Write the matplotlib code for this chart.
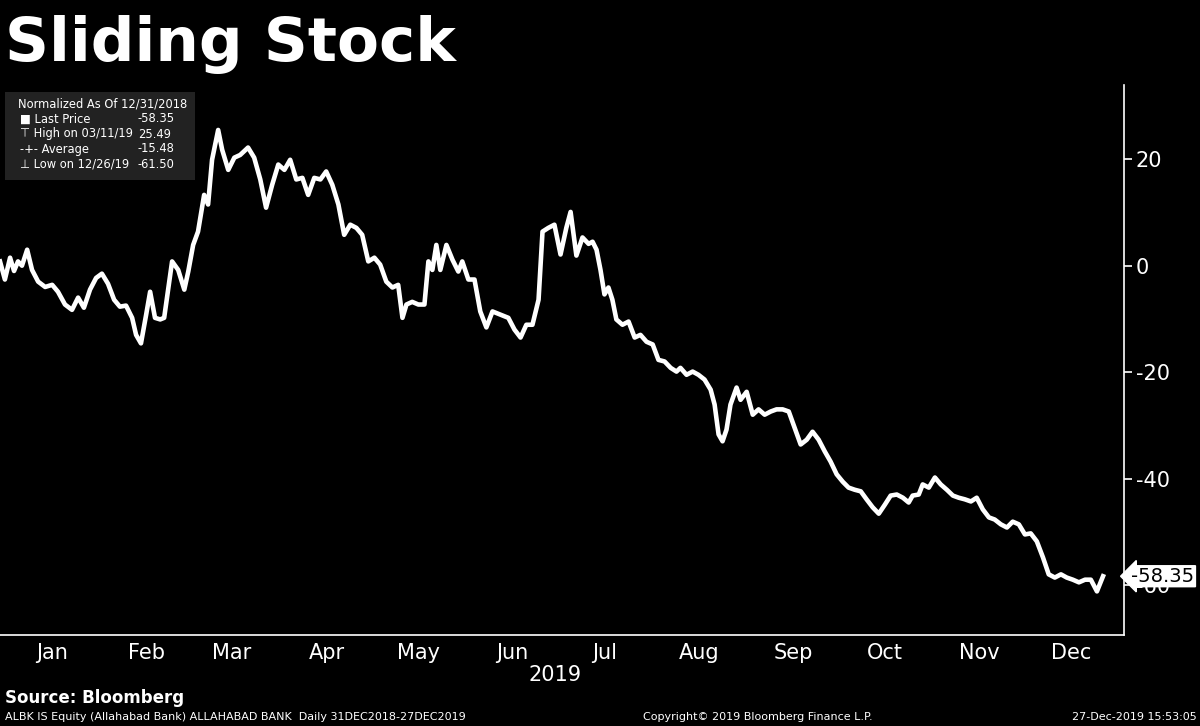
import numpy as np
import matplotlib.pyplot as plt
import matplotlib.dates as mdates
import datetime as dt

# Normalized ALBK price (% change vs 12/31/2018)
day_offset = [0, 1.6, 3.3, 4.6, 5.9, 7.2, 8.9, 10.5, 12.5, 14.8, 17.1, 19, 21.3, 23.6, 25.6, 27.5, 29.5, 31.5,
              33.4, 35.4, 37.4, 39.3, 41.3, 43.3, 44.6, 46.2, 47.9, 49.2, 50.8, 52.5, 53.8, 55.1, 56.4, 58.4,
              60.4, 61.7, 63.3, 64.9, 66.9, 68.2, 69.5, 71.5, 72.8, 74.8, 76.8, 78.7, 81.3, 83.3, 85.3, 87.2,
              89.2, 91.2, 93.2, 95.1, 97.1, 99.1, 101, 103, 105, 106.9, 108.9, 110.9, 112.8, 114.8, 116.8,
              118.7, 120.7, 122.7, 124.6, 126.6, 128.6, 130.5, 131.9, 133.2, 135.1, 137.1, 139.1, 140.4,
              141.7, 143, 144.3, 146.3, 148.3, 150.2, 151.5, 153.5, 155.5, 157.4, 159.4, 161.4, 164, 166.6,
              168.6, 170.6, 172.5, 174.5, 176.5, 177.8, 179.7, 181.7, 183.7, 185.6, 187, 188.9, 190.9, 192.9,
              194.2, 195.5, 196.8, 198.1, 199.4, 200.7, 202, 204, 206, 208, 209.9, 211.9, 213.9, 215.8, 217.8,
              219.8, 221.7, 223, 225, 227, 228.9, 230.9, 232.9, 234.2, 235.5, 236.8, 238.1, 239.4, 241.4,
              242.7, 244.7, 246.7, 248.6, 250.6, 252.6, 254.5, 256.5, 258.5, 260.4, 262.4, 264.4, 266.3,
              268.3, 270.3, 272.2, 274.2, 276.2, 278.1, 280.1, 282.1, 284, 286, 288, 290, 291.9, 293.9,
              295.9, 297.8, 299.1, 301.1, 302.4, 304.4, 306.4, 308.3, 310.3, 312.3, 314.2, 316.2, 318.2,
              320.1, 322.1, 324.1, 326, 328, 330, 331.9, 333.9, 335.9, 337.8, 339.8, 341.8, 343.7, 345.7,
              347.7, 349.6, 351.6, 353.6, 355.6, 357.5, 359.5, 361.5]
values = [0.8, -2.6, 1.5, -1, 0.8, 0, 3, -0.8, -3, -4, -3.6, -4.9, -7.3, -8.3, -6, -7.9, -4.5, -2.3,
          -1.5, -3.4, -6.4, -7.7, -7.5, -9.8, -13, -14.6, -9.2, -4.9, -9.8, -10.1, -9.8, -4.5, 0.8, -0.8,
          -4.5, -1.1, 3.9, 6.4, 13.3, 11.5, 19.9, 25.5, 21.8, 18, 20.3, 20.8, 22.2, 20.3, 16.2, 10.9,
          15.2, 19, 18, 19.9, 16.2, 16.5, 13.3, 16.5, 16.2, 17.7, 15.2, 11.5, 5.8, 7.7, 7.1,
          5.8, 0.8, 1.5, 0.2, -3, -4.1, -3.6, -9.8, -7.3, -6.8, -7.3, -7.3, 0.8,
          -0.8, 3.9, -0.8, 3.9, 1.1, -1.1, 0.8, -2.6, -2.6, -8.6, -11.6, -8.6, -9.2, -9.8,
          -12, -13.5, -11.1, -11.1, -6.4, 6.4, 7.1, 7.7, 2.1, 7.1, 10.1, 1.9, 5.3, 4.1,
          4.5, 3, -0.8, -5.4, -4.1, -6.4, -10.1, -11.1, -10.5, -13.5, -13, -14.3, -14.8, -17.7, -18,
          -19.2, -19.9, -19.2, -20.5, -19.9, -20.5, -21.4, -23.3, -26.1, -31.7, -33, -30.8, -26.1, -22.9,
          -25.2, -23.7, -28, -27, -28, -27.4, -27, -27, -27.4, -30.4, -33.6, -32.7, -31.2,
          -32.7, -34.9, -36.8, -39.2, -40.6, -41.7, -42.1, -42.4, -43.9, -45.4, -46.6, -44.9, -43.2, -43,
          -43.6, -44.5, -43.2, -43, -41.1, -41.7, -39.8, -41.1, -42.1, -43.2, -43.6, -43.9, -44.3,
          -43.6, -45.8, -47.3, -47.7, -48.6, -49.2, -48.1, -48.6, -50.5, -50.3, -51.8, -54.8, -58, -58.6,
          -58, -58.6, -59, -59.5, -59, -59, -61.2, -58.35]
y_ticks = [20, 0, -20, -40, -60]
month_labels = ["Jan", "Feb", "Mar", "Apr", "May", "Jun", "Jul", "Aug", "Sep", "Oct", "Nov", "Dec"]

start = dt.datetime(2018, 12, 31)
dates = [start + dt.timedelta(days=d) for d in day_offset]

plt.rcParams["font.family"] = "DejaVu Sans"
fig = plt.figure(figsize=(12, 7.26), dpi=100, facecolor="black")
ax = fig.add_axes([0, 0.1253, 0.937, 0.758], facecolor="black")
ax.plot(dates, values, color="white", lw=3.3, solid_joinstyle="round", zorder=3)

ax.set_xlim(start, start + dt.timedelta(days=368.5))
ax.set_ylim(-69.4, 34)
for s in ["left", "top"]:
    ax.spines[s].set_visible(False)
for s in ["right", "bottom"]:
    ax.spines[s].set_color("white")
    ax.spines[s].set_linewidth(1.2)

ax.yaxis.tick_right()
ax.set_yticks(y_ticks)
ax.set_yticklabels([f"{t}" if t >= 0 else f"-{abs(t)}" for t in y_ticks])
ax.tick_params(axis="y", colors="white", labelsize=15, length=6, width=1.2, pad=2)

ax.xaxis.set_major_locator(mdates.MonthLocator())
ax.xaxis.set_major_formatter(plt.NullFormatter())
ax.set_xticks([dt.datetime(2019, m, 17) for m in range(1, 13)], minor=True)
ax.set_xticklabels(month_labels, minor=True)
ax.tick_params(axis="x", which="major", length=0)
ax.tick_params(axis="x", which="minor", length=0, colors="white", labelsize=15, pad=6)

# last price tag
ax.annotate(f"{values[-1]:.2f}", xy=(1.0, values[-1]), xycoords=("axes fraction", "data"),
            xytext=(5, 0), textcoords="offset points", va="center", ha="left",
            fontsize=14, color="black", zorder=5,
            bbox=dict(boxstyle="larrow,pad=0.05", fc="white", ec="white"))

fig.text(555 / 1200, 1 - 675 / 726, "2019", color="white", fontsize=15, ha="center", va="center")
fig.text(0.004, 1 - 45 / 726, "Sliding Stock", color="white", fontsize=44, fontweight="bold",
         va="center", ha="left")

legend_lines = [("Normalized As Of 12/31/2018", ""), ("\u25a0 Last Price", "-58.35"),
                ("\u22a4 High on 03/11/19", "25.49"), ("-+- Average", "-15.48"),
                ("\u22a5 Low on 12/26/19", "-61.50")]
fig.patches.append(plt.Rectangle((5 / 1200, 1 - 180 / 726), 190 / 1200, 88 / 726,
                                 transform=fig.transFigure, fc="#222222", ec="none"))
for i, (lab, val) in enumerate(legend_lines):
    y = 1 - (104 + i * 15) / 726
    fig.text((18 if i == 0 else 20) / 1200, y, lab, color="white", fontsize=8.3, va="center")
    if val:
        fig.text(138 / 1200, y, val, color="white", fontsize=8.3, va="center")

fig.text(0.004, 1 - 698 / 726, "Source: Bloomberg", color="white", fontsize=12, fontweight="bold", va="center")
fig.text(0.004, 1 - 717 / 726, "ALBK IS Equity (Allahabad Bank) ALLAHABAD BANK  Daily 31DEC2018-27DEC2019",
         color="white", fontsize=8, va="center")
fig.text(643 / 1200, 1 - 717 / 726, "Copyright\u00a9 2019 Bloomberg Finance L.P.", color="white", fontsize=8, va="center")
fig.text(0.997, 1 - 717 / 726, "27-Dec-2019 15:53:05", color="white", fontsize=8, va="center", ha="right")

fig.savefig("out.png", dpi=100, facecolor="black")
